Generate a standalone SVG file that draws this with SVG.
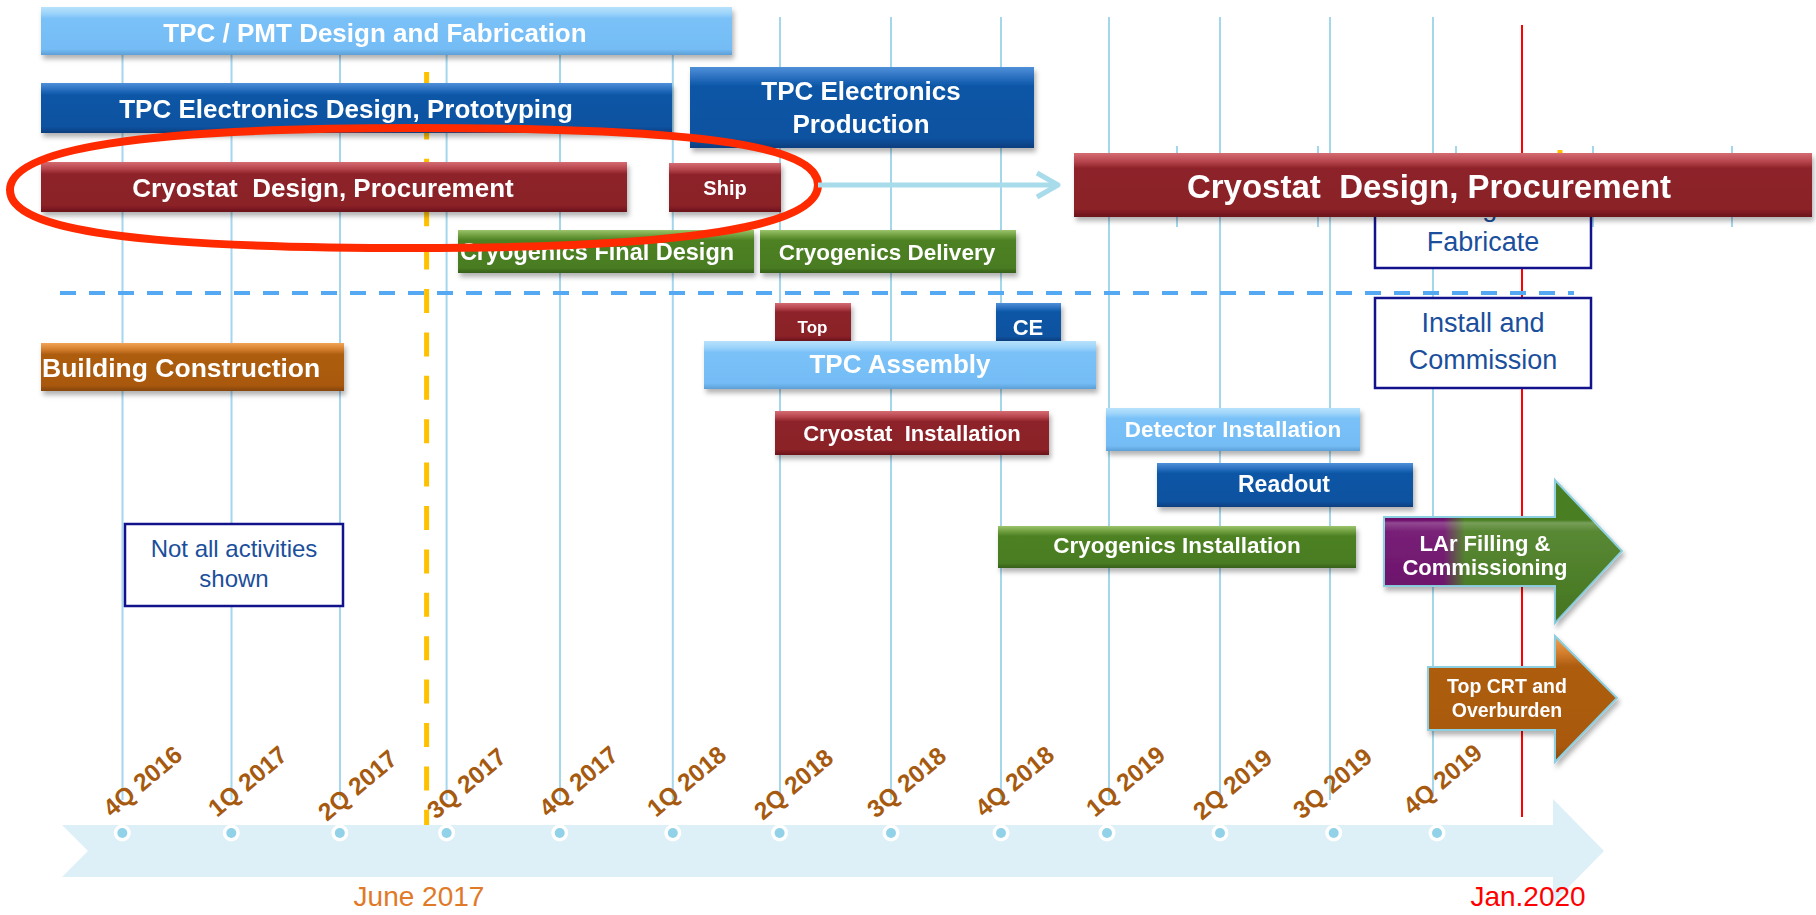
<svg xmlns="http://www.w3.org/2000/svg" width="1816" height="915" viewBox="0 0 1816 915">
  <defs>
    <linearGradient id="gLight" x1="0" y1="0" x2="0" y2="1">
      <stop offset="0" stop-color="#B8E2FC"/>
      <stop offset="0.13" stop-color="#9DD4FA"/>
      <stop offset="0.24" stop-color="#7AC1F8"/>
      <stop offset="0.88" stop-color="#74BCF5"/>
      <stop offset="1" stop-color="#5C9FD6"/>
    </linearGradient>
    <linearGradient id="gDark" x1="0" y1="0" x2="0" y2="1">
      <stop offset="0" stop-color="#4F90D8"/>
      <stop offset="0.13" stop-color="#2A6FC0"/>
      <stop offset="0.24" stop-color="#0B56A6"/>
      <stop offset="0.88" stop-color="#0952A0"/>
      <stop offset="1" stop-color="#073E7E"/>
    </linearGradient>
    <linearGradient id="gRed" x1="0" y1="0" x2="0" y2="1">
      <stop offset="0" stop-color="#D56C72"/>
      <stop offset="0.13" stop-color="#B7464E"/>
      <stop offset="0.24" stop-color="#8D2229"/>
      <stop offset="0.88" stop-color="#8A2028"/>
      <stop offset="1" stop-color="#69141A"/>
    </linearGradient>
    <linearGradient id="gGreen" x1="0" y1="0" x2="0" y2="1">
      <stop offset="0" stop-color="#9CC46C"/>
      <stop offset="0.13" stop-color="#6E9E3E"/>
      <stop offset="0.24" stop-color="#4D8124"/>
      <stop offset="0.88" stop-color="#4A7C22"/>
      <stop offset="1" stop-color="#35601A"/>
    </linearGradient>
    <linearGradient id="gOrange" x1="0" y1="0" x2="0" y2="1">
      <stop offset="0" stop-color="#F2A456"/>
      <stop offset="0.13" stop-color="#D47F2E"/>
      <stop offset="0.24" stop-color="#AD5D10"/>
      <stop offset="0.88" stop-color="#A9590F"/>
      <stop offset="1" stop-color="#854508"/>
    </linearGradient>
    <linearGradient id="gLar" x1="1384" y1="0" x2="1622" y2="0" gradientUnits="userSpaceOnUse">
      <stop offset="0" stop-color="#6C0C6C"/>
      <stop offset="0.25" stop-color="#6E0E6C"/>
      <stop offset="0.34" stop-color="#4A7E22"/>
      <stop offset="1" stop-color="#4A7E22"/>
    </linearGradient>
    <linearGradient id="gGloss" x1="0" y1="0" x2="0" y2="1">
      <stop offset="0" stop-color="#FFFFFF" stop-opacity="0"/>
      <stop offset="0.28" stop-color="#FFFFFF" stop-opacity="0"/>
      <stop offset="0.3" stop-color="#FFFFFF" stop-opacity="0.25"/>
      <stop offset="0.36" stop-color="#FFFFFF" stop-opacity="0.08"/>
      <stop offset="1" stop-color="#000000" stop-opacity="0.08"/>
    </linearGradient>
    <filter id="shadow" x="-5%" y="-20%" width="115%" height="170%">
      <feDropShadow dx="2" dy="4" stdDeviation="2.5" flood-color="#000" flood-opacity="0.3"/>
    </filter>
    <marker id="chev" viewBox="0 0 26 30" refX="23" refY="15" markerWidth="26" markerHeight="30" markerUnits="userSpaceOnUse" orient="auto">
      <path d="M2 3 L23 15 L2 27" fill="none" stroke="#A8DCEB" stroke-width="5" stroke-linejoin="round"/>
    </marker>
    <style>
      .grid { stroke: #A4D6EC; stroke-width: 2; }
      .bar { filter: url(#shadow); }
      .light { fill: url(#gLight); }
      .dark { fill: url(#gDark); }
      .red { fill: url(#gRed); }
      .green { fill: url(#gGreen); }
      .orange { fill: url(#gOrange); }
      .bt { font-family: "Liberation Sans", Arial, sans-serif; font-weight: bold; fill: #FFFFFF; text-anchor: middle; }
      .q { font-family: "Liberation Sans", Arial, sans-serif; font-weight: bold; fill: #A65A10; font-size: 24.5px; }
      .note { font-family: "Liberation Sans", Arial, sans-serif; fill: #1B4F9C; text-anchor: middle; }
      .box { fill: #FFFFFF; stroke: #12128C; stroke-width: 2.5; }
      .dot-o { fill: #FFFFFF; }
      .dot-i { fill: #92D2E8; }
    </style>
  </defs>

  <rect width="1816" height="915" fill="#FFFFFF"/>

  <!-- quarter grid -->
  <g id="grid">
    <line class="grid" x1="122.5" y1="17" x2="122.5" y2="800"/>
    <line class="grid" x1="231.5" y1="17" x2="231.5" y2="800"/>
    <line class="grid" x1="340" y1="17" x2="340" y2="800"/>
    <line class="grid" x1="446.6" y1="17" x2="446.6" y2="800"/>
    <line class="grid" x1="560" y1="17" x2="560" y2="800"/>
    <line class="grid" x1="672.8" y1="17" x2="672.8" y2="800"/>
    <line class="grid" x1="780" y1="17" x2="780" y2="800"/>
    <line class="grid" x1="891" y1="17" x2="891" y2="800"/>
    <line class="grid" x1="1001" y1="17" x2="1001" y2="800"/>
    <line class="grid" x1="1109" y1="17" x2="1109" y2="800"/>
    <line class="grid" x1="1220" y1="17" x2="1220" y2="800"/>
    <line class="grid" x1="1330" y1="17" x2="1330" y2="800"/>
    <line class="grid" x1="1433" y1="17" x2="1433" y2="797" stroke="#BFE0F5"/>
    <!-- short ticks behind the long cryostat bar -->
    <line class="grid" x1="1177" y1="146" x2="1177" y2="227"/>
    <line class="grid" x1="1318" y1="146" x2="1318" y2="227"/>
    <line class="grid" x1="1456" y1="146" x2="1456" y2="227"/>
    <line class="grid" x1="1593" y1="146" x2="1593" y2="227"/>
    <line class="grid" x1="1732" y1="146" x2="1732" y2="227"/>
  </g>

  <!-- status date markers -->
  <g id="markers">
    <line x1="426.6" y1="72" x2="426.6" y2="825" stroke="#FFC000" stroke-width="5" stroke-dasharray="24 19.4"/>
    <line x1="1560" y1="150" x2="1560" y2="227" stroke="#FFC000" stroke-width="5"/>
    <line x1="1522" y1="25" x2="1522" y2="817" stroke="#FF0000" stroke-width="2"/>
    <line x1="60" y1="293" x2="1574" y2="293" stroke="#55A8F2" stroke-width="4" stroke-dasharray="16 13"/>
  </g>

  <!-- note boxes -->
  <g id="box-design">
    <rect class="box" x="1375" y="177" width="216" height="91"/>
    <text class="note" x="1483" y="216" font-size="27" xml:space="preserve">Design &amp;</text>
    <text class="note" x="1483" y="251" font-size="27">Fabricate</text>
  </g>
  <g id="box-install">
    <rect class="box" x="1375" y="298" width="216" height="90"/>
    <text class="note" x="1483" y="332" font-size="27">Install and</text>
    <text class="note" x="1483" y="369" font-size="27">Commission</text>
  </g>
  <g id="box-note">
    <rect class="box" x="125" y="524" width="218" height="82"/>
    <text class="note" x="234" y="557" font-size="24">Not all activities</text>
    <text class="note" x="234" y="587" font-size="24">shown</text>
  </g>

  <!-- activity bars -->
  <g id="tpc-pmt" class="bar">
    <rect class="light" x="41" y="7" width="691" height="48"/>
    <text class="bt" x="375" y="42" font-size="26">TPC / PMT Design and Fabrication</text>
  </g>
  <g id="tpc-elec-design" class="bar">
    <rect class="dark" x="41" y="83" width="631" height="50"/>
    <text class="bt" x="346" y="118" font-size="26">TPC Electronics Design, Prototyping</text>
  </g>
  <g id="tpc-elec-prod" class="bar">
    <rect class="dark" x="690" y="67" width="344" height="81"/>
    <text class="bt" x="861" y="100" font-size="26">TPC Electronics</text>
    <text class="bt" x="861" y="133" font-size="26">Production</text>
  </g>
  <g id="cryostat-design" class="bar">
    <rect class="red" x="41" y="162" width="586" height="50"/>
    <text class="bt" x="323" y="197" font-size="26" xml:space="preserve">Cryostat  Design, Procurement</text>
  </g>
  <g id="ship" class="bar">
    <rect class="red" x="669" y="163" width="112" height="49"/>
    <text class="bt" x="725" y="195" font-size="20">Ship</text>
  </g>
  <g id="cryostat-design-2" class="bar">
    <rect class="red" x="1074" y="153" width="738" height="64"/>
    <text class="bt" x="1429" y="198" font-size="33" xml:space="preserve">Cryostat  Design, Procurement</text>
  </g>
  <g id="cryo-final" class="bar">
    <rect class="green" x="458" y="230" width="296" height="43"/>
    <text class="bt" x="597" y="260" font-size="23.5">Cryogenics Final Design</text>
  </g>
  <g id="cryo-delivery" class="bar">
    <rect class="green" x="760" y="230" width="256" height="43"/>
    <text class="bt" x="887" y="260" font-size="22.5">Cryogenics Delivery</text>
  </g>
  <g id="building" class="bar">
    <rect class="orange" x="41" y="343" width="303" height="48"/>
    <text class="bt" x="42" y="377" font-size="26.5" style="text-anchor:start">Building Construction</text>
  </g>
  <g id="top" class="bar">
    <rect class="red" x="775" y="303" width="76" height="38"/>
    <text class="bt" x="812.5" y="333" font-size="17">Top</text>
  </g>
  <g id="ce" class="bar">
    <rect class="dark" x="996" y="303" width="65" height="38"/>
    <text class="bt" x="1028" y="335" font-size="22">CE</text>
  </g>
  <g id="tpc-assembly" class="bar">
    <rect class="light" x="704" y="341" width="392" height="48"/>
    <text class="bt" x="900" y="373" font-size="26">TPC Assembly</text>
  </g>
  <g id="cryostat-install" class="bar">
    <rect class="red" x="775" y="411" width="274" height="44"/>
    <text class="bt" x="912" y="441" font-size="22" xml:space="preserve">Cryostat  Installation</text>
  </g>
  <g id="detector-install" class="bar">
    <rect class="light" x="1106" y="408" width="254" height="43"/>
    <text class="bt" x="1233" y="437" font-size="22.5">Detector Installation</text>
  </g>
  <g id="readout" class="bar">
    <rect class="dark" x="1157" y="463" width="256" height="44"/>
    <text class="bt" x="1284" y="492" font-size="23">Readout</text>
  </g>
  <g id="cryo-install" class="bar">
    <rect class="green" x="998" y="526" width="358" height="42"/>
    <text class="bt" x="1177" y="553" font-size="22.5">Cryogenics Installation</text>
  </g>
  <g id="lar-filling" class="bar">
    <polygon points="1384,517 1555,517 1555,480 1622,551 1555,623 1555,586 1384,586" fill="url(#gLar)" stroke="#8CCFE0" stroke-width="2"/>
    <polygon points="1384,517 1555,517 1555,480 1622,551 1555,623 1555,586 1384,586" fill="url(#gGloss)"/>
    <text class="bt" x="1485" y="551" font-size="22">LAr Filling &amp;</text>
    <text class="bt" x="1485" y="575" font-size="22">Commissioning</text>
  </g>
  <g id="top-crt" class="bar">
    <polygon points="1428,667 1555,667 1555,636 1617,698 1555,762 1555,730 1428,730" fill="url(#gOrange)" stroke="#8CCFE0" stroke-width="2"/>
    <text class="bt" x="1507" y="693" font-size="19.5">Top CRT and</text>
    <text class="bt" x="1507" y="717" font-size="19.5">Overburden</text>
  </g>

  <!-- highlight ring round the first cryostat row -->
  <g id="highlight">
    <path d="M10 190 C10 149 139 128 414 128 C689 128 818 144 818 185 C818 226 689 248 414 248 C139 248 10 231 10 190 Z" fill="none" stroke="#FF2A00" stroke-width="8"/>
  </g>

  <!-- connectors -->
  <g id="connectors">
    <line x1="818" y1="185" x2="1058" y2="185" stroke="#A8DCEB" stroke-width="5" marker-end="url(#chev)"/>
  </g>

  <!-- time axis -->
  <g id="timeline">
    <polygon points="62,825 1553,825 1553,799 1604,851 1553,903 1553,877 62,877 88,851" fill="#DDEFF7"/>
    <g>
      <circle class="dot-o" cx="122.3" cy="833" r="8.5"/><circle class="dot-i" cx="122.3" cy="833" r="5"/>
      <circle class="dot-o" cx="231.3" cy="833" r="8.5"/><circle class="dot-i" cx="231.3" cy="833" r="5"/>
      <circle class="dot-o" cx="339.8" cy="833" r="8.5"/><circle class="dot-i" cx="339.8" cy="833" r="5"/>
      <circle class="dot-o" cx="446.6" cy="833" r="8.5"/><circle class="dot-i" cx="446.6" cy="833" r="5"/>
      <circle class="dot-o" cx="559.7" cy="833" r="8.5"/><circle class="dot-i" cx="559.7" cy="833" r="5"/>
      <circle class="dot-o" cx="672.8" cy="833" r="8.5"/><circle class="dot-i" cx="672.8" cy="833" r="5"/>
      <circle class="dot-o" cx="779.6" cy="833" r="8.5"/><circle class="dot-i" cx="779.6" cy="833" r="5"/>
      <circle class="dot-o" cx="891" cy="833" r="8.5"/><circle class="dot-i" cx="891" cy="833" r="5"/>
      <circle class="dot-o" cx="1001" cy="833" r="8.5"/><circle class="dot-i" cx="1001" cy="833" r="5"/>
      <circle class="dot-o" cx="1107" cy="833" r="8.5"/><circle class="dot-i" cx="1107" cy="833" r="5"/>
      <circle class="dot-o" cx="1220" cy="833" r="8.5"/><circle class="dot-i" cx="1220" cy="833" r="5"/>
      <circle class="dot-o" cx="1333.7" cy="833" r="8.5"/><circle class="dot-i" cx="1333.7" cy="833" r="5"/>
      <circle class="dot-o" cx="1437" cy="833" r="8.5"/><circle class="dot-i" cx="1437" cy="833" r="5"/>
    </g>
    <g>
      <text class="q" transform="translate(112 818) rotate(-40)">4Q 2016</text>
      <text class="q" transform="translate(217 818) rotate(-40)">1Q 2017</text>
      <text class="q" transform="translate(327 822) rotate(-40)">2Q 2017</text>
      <text class="q" transform="translate(436 820) rotate(-40)">3Q 2017</text>
      <text class="q" transform="translate(548 818) rotate(-40)">4Q 2017</text>
      <text class="q" transform="translate(656 818) rotate(-40)">1Q 2018</text>
      <text class="q" transform="translate(763 821) rotate(-40)">2Q 2018</text>
      <text class="q" transform="translate(876 819) rotate(-40)">3Q 2018</text>
      <text class="q" transform="translate(984 818) rotate(-40)">4Q 2018</text>
      <text class="q" transform="translate(1095 818) rotate(-40)">1Q 2019</text>
      <text class="q" transform="translate(1202 821) rotate(-40)">2Q 2019</text>
      <text class="q" transform="translate(1302 820) rotate(-40)">3Q 2019</text>
      <text class="q" transform="translate(1412 816) rotate(-40)">4Q 2019</text>
    </g>
    <text x="419" y="906" font-family="Liberation Sans, Arial, sans-serif" font-size="28" fill="#E07A28" text-anchor="middle">June 2017</text>
    <text x="1528" y="906" font-family="Liberation Sans, Arial, sans-serif" font-size="28" fill="#FF0000" text-anchor="middle">Jan.2020</text>
  </g>
</svg>
